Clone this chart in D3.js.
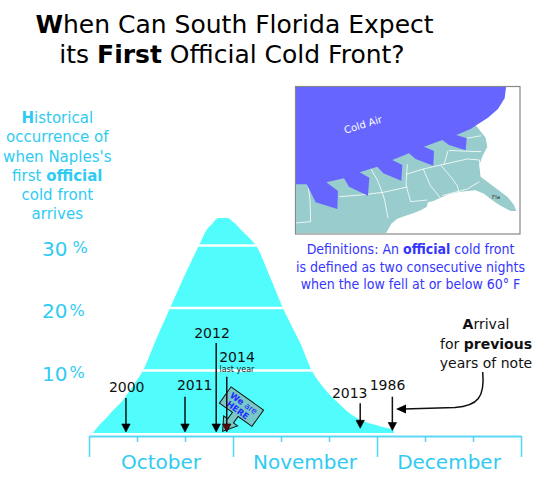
<!DOCTYPE html>
<html><head><meta charset="utf-8">
<script src="https://cdn.jsdelivr.net/npm/d3@7"></script>
<style>
body{margin:0;background:#fff}
svg{display:block}
text{font-family:"DejaVu Sans",Verdana,sans-serif}
</style>
</head><body>
<svg id="c" width="551" height="480"></svg>
<script>
// ---------------- DATA ----------------
const months = ["October", "November", "December"];
const monthMid = [15, 45, 75];              // day index (30-day months) of month label
const majorTicks = [0, 30, 60, 90];
const minorTicks = [10, 20, 40, 50, 70, 80];
const pctTicks = [10, 20, 30];
const pctLabels = ["10", "20", "30"];
// historical occurrence curve: day index from Oct 1 (30-day months) and percent
const curveDay = [0.8, 2.3, 3.3, 5, 7.1, 9.2, 11.25, 14, 16.9, 19.8, 22.9, 24.5, 25.6, 26.9, 28.75, 30, 31.7, 33.3, 34.8, 37.7, 40.4, 42.3, 44, 46.4, 48.1, 50.2, 52.1, 53.75, 55.4, 57.1, 59, 60.6, 62.3, 63.3, 63.6];
const curvePct = [0, 1.4, 2.15, 3.6, 5.3, 7.6, 10, 15, 20, 25, 30, 32.5, 33.4, 34.4, 34.4, 33.8, 32.5, 31.3, 30, 25, 20, 17, 14.4, 10, 8, 6.1, 4.7, 3.5, 2.6, 1.9, 1.45, 1.1, 0.75, 0.55, 0];
// years of note and their first-front arrival (day index)
const noteYears = ["2000", "2011", "2012", "2014", "2013", "1986"];
const noteDay = [7.7, 20, 26.5, 28.7, 56.5, 63.2];

// ---------------- DRAW ----------------
const svg = d3.select("#c");
const cyanText = "#2fcbf2";
const x = d3.scaleLinear().domain([0, 90]).range([89, 521]);
const y = d3.scaleLinear().domain([0, 30]).range([433, 245.5]);

// Title
const t1 = svg.append("text").attr("x", 234.5).attr("y", 33).attr("text-anchor", "middle").attr("font-size", 25).attr("fill", "#000");
t1.append("tspan").attr("font-weight", "bold").text("W");
t1.append("tspan").text("hen Can South Florida Expect");
const t2 = svg.append("text").attr("x", 232).attr("y", 63).attr("text-anchor", "middle").attr("font-size", 25).attr("fill", "#000");
t2.append("tspan").text("its ");
t2.append("tspan").attr("font-weight", "bold").text("First");
t2.append("tspan").text(" Official Cold Front?");

// Left description
const descLines = [
  [["H", true], ["istorical", false]],
  [["occurrence of", false]],
  [["when Naples's", false]],
  [["first ", false], ["official", true]],
  [["cold front", false]],
  [["arrives", false]]
];
descLines.forEach((segs, i) => {
  const t = svg.append("text").attr("x", 57.3).attr("y", 123.3 + i * 19.1)
    .attr("text-anchor", "middle").attr("font-size", 15).attr("fill", cyanText);
  segs.forEach(s => t.append("tspan").attr("font-weight", s[1] ? "bold" : null).text(s[0]));
});

// Percent labels
pctTicks.forEach((v, i) => {
  const t = svg.append("text").attr("x", 42).attr("y", y(v) + 10).attr("font-size", 20).attr("fill", cyanText);
  t.append("tspan").text(pctLabels[i]);
  t.append("tspan").attr("font-size", 16).attr("dx", v === 30 ? 5 : 2).attr("dy", -2.5).text("%");
});

// Area
const pts = curveDay.map((d, i) => [d, curvePct[i]]);
const area = d3.area().x(d => x(d[0])).y0(y(0)).y1(d => y(d[1])).curve(d3.curveMonotoneX);
svg.append("clipPath").attr("id", "areaClip").append("path").attr("d", area(pts));
svg.append("path").attr("d", area(pts)).attr("fill", "#50fcfc");
svg.append("g").attr("clip-path", "url(#areaClip)")
  .selectAll("line").data(pctTicks).join("line")
  .attr("x1", x(0)).attr("x2", x(90)).attr("y1", d => y(d)).attr("y2", d => y(d))
  .attr("stroke", "#fff").attr("stroke-width", 2.5);

// Axis
const axisY = 436;
const axisColor = "#5cd8f7";
const gMinor = svg.append("g").attr("transform", `translate(0,${axisY})`)
  .call(d3.axisBottom(x).tickValues(minorTicks).tickSize(6).tickSizeOuter(0).tickFormat(""));
const gMajor = svg.append("g").attr("transform", `translate(0,${axisY})`)
  .call(d3.axisBottom(x).tickValues(majorTicks).tickSize(21).tickSizeOuter(0).tickFormat(""));
gMajor.select(".domain").remove();
gMinor.select(".domain").attr("stroke", axisColor).attr("stroke-width", 2);
svg.selectAll(".tick line").attr("stroke", axisColor).attr("stroke-width", 1.6);
svg.selectAll(".tick text").remove();
months.forEach((m, i) => {
  svg.append("text").attr("x", x(monthMid[i])).attr("y", 469).attr("text-anchor", "middle")
    .attr("font-size", 20).attr("fill", cyanText).text(m);
});

// "We are HERE" sign
const sign = svg.append("g").attr("transform", "translate(241.5,406.6) rotate(35.6)");
sign.append("path")
  .attr("d", "M-20,-10 H20 V10 H3 V18 H8 L-1,31 L-9,18 H-4 V10 H-20 Z")
  .attr("fill", "#78c8c8").attr("stroke", "#111").attr("stroke-width", 1);
const sw = sign.append("text").attr("x", 0).attr("y", -1).attr("text-anchor", "middle").attr("font-size", 8.5).attr("fill", "#1f2bff");
sw.append("tspan").attr("font-weight", "bold").text("We");
sw.append("tspan").text(" are");
sign.append("text").attr("x", -1).attr("y", 8).attr("text-anchor", "middle").attr("font-size", 8.5)
  .attr("font-weight", "bold").attr("fill", "#1f2bff").text("HERE");

// Arrows for years of note
const noteLayout = {
  "2000": {top: 398, tip: 432, lx: 126.7, ly: 391.7},
  "2011": {top: 396.7, tip: 432, lx: 194.7, ly: 390},
  "2012": {top: 343, tip: 432, lx: 212, ly: 337.7},
  "2014": {top: 376.7, tip: 432, lx: 237, ly: 361.7, sub: "last year", head: "#5a0a0a"},
  "2013": {top: 403.3, tip: 428.3, lx: 349.7, ly: 397.7},
  "1986": {top: 396.7, tip: 430.5, lx: 387.5, ly: 390}
};
noteYears.forEach((yr, i) => {
  const L = noteLayout[yr];
  const ax = x(noteDay[i]);
  svg.append("line").attr("x1", ax).attr("x2", ax).attr("y1", L.top).attr("y2", L.tip - 6)
    .attr("stroke", "#111").attr("stroke-width", 1.5);
  svg.append("path").attr("d", `M${ax - 4.2},${L.tip - 8} L${ax + 4.2},${L.tip - 8} L${ax},${L.tip} Z`)
    .attr("fill", L.head || "#000").attr("stroke", "#000").attr("stroke-width", 0.6);
  svg.append("text").attr("x", L.lx).attr("y", L.ly).attr("text-anchor", "middle")
    .attr("font-size", 14).attr("fill", "#111").text(yr);
  if (L.sub) svg.append("text").attr("x", L.lx).attr("y", L.ly + 10.6).attr("text-anchor", "middle")
    .attr("font-size", 8).attr("fill", "#222").text(L.sub);
});

// Right annotation
const arr = [[["A", true], ["rrival", false]], [["for ", false], ["previous", true]], [["years of note", false]]];
arr.forEach((segs, i) => {
  const t = svg.append("text").attr("x", 486).attr("y", 329 + i * 19.6).attr("text-anchor", "middle")
    .attr("font-size", 14).attr("fill", "#111");
  segs.forEach(s => t.append("tspan").attr("font-weight", s[1] ? "bold" : null).text(s[0]));
});
svg.append("path").attr("d", "M482.7,372 C485,397 478,406 455,407.5 L404,409")
  .attr("fill", "none").attr("stroke", "#111").attr("stroke-width", 1.5);
svg.append("path").attr("d", "M396,409 L406,404.5 L406,413.5 Z").attr("fill", "#000");

// Map
svg.append("rect").attr("x", 295.5).attr("y", 86.5).attr("width", 224.5).attr("height", 147.5)
  .attr("fill", "#fff").attr("stroke", "#888").attr("stroke-width", 1.2);
svg.append("clipPath").attr("id", "mapClip").append("rect").attr("x", 296).attr("y", 87).attr("width", 223.5).attr("height", 146.5);
const map = svg.append("g").attr("clip-path", "url(#mapClip)").append("g").attr("transform", "translate(294,85) scale(0.3333)");
const land = [[0,0],[532,0],[532,118],[548,124],[575,158],[580,185],[566,212],[556,240],[560,275],[600,305],[640,335],[660,360],[667,378],[650,378],[620,362],[595,346],[570,326],[545,316],[520,318],[490,322],[465,328],[440,338],[418,348],[402,352],[398,366],[380,376],[360,384],[335,392],[310,401],[292,416],[276,445],[0,445]];
map.append("path").attr("d", d3.line()(land) + "Z").attr("fill", "#99cccc");
const stateLines = [
  "M42,300 L48,345 L50,410 L6,414",
  "M230,250 L250,285 L262,315 L272,345 L282,400",
  "M136,335 L200,330 L268,322 L340,306",
  "M340,238 L336,300 L350,350 L400,345",
  "M336,268 L388,252 L440,240 L520,222 L556,225",
  "M388,252 L408,300 L440,340",
  "M440,240 L470,275 L490,302 L495,322",
  "M465,196 L500,198 L562,200",
  "M518,160 L562,152",
  "M445,332 L520,312 L556,290",
  "M556,225 L562,275",
  "M462,198 L450,240"
];
map.selectAll(".st").data(stateLines).join("path").attr("d", d => d)
  .attr("fill", "none").attr("stroke", "#fff").attr("stroke-width", 2.4);
const cold = [[0,0],[637,0],[632,40],[612,72],[582,98],[548,120],[530,132],[487,150],[518,160],[515,196],[465,180],[445,165],[390,185],[420,198],[418,242],[365,222],[345,205],[295,225],[325,240],[322,287],[268,265],[250,245],[197,262],[226,278],[222,332],[165,305],[150,280],[97,292],[132,318],[130,372],[65,352],[38,298],[0,298]];
map.append("path").attr("d", d3.line()(cold) + "Z").attr("fill", "#6666ff");
svg.append("text").attr("transform", "translate(364,128) rotate(-17)").attr("text-anchor", "middle")
  .attr("font-size", 10).attr("fill", "#fff").text("Cold Air");
svg.append("text").attr("x", 496).attr("y", 199).attr("text-anchor", "middle")
  .attr("font-size", 5.5).attr("fill", "#333").text("Fla");

// Definitions
const defs = [
  [["Definitions: An ", false], ["official", true], [" cold front", false]],
  [["is defined as two consecutive nights", false]],
  [["when the low fell at or below 60° F", false]]
];
defs.forEach((segs, i) => {
  const t = svg.append("text").attr("x", 410.5).attr("y", 254 + i * 17.6).attr("text-anchor", "middle")
    .attr("font-size", 14).attr("fill", "#3535ff")
    .style("font-family", "'DejaVu Sans Condensed','DejaVu Sans',sans-serif");
  segs.forEach(s => t.append("tspan").attr("font-weight", s[1] ? "bold" : null).text(s[0]));
});
</script>
</body></html>
